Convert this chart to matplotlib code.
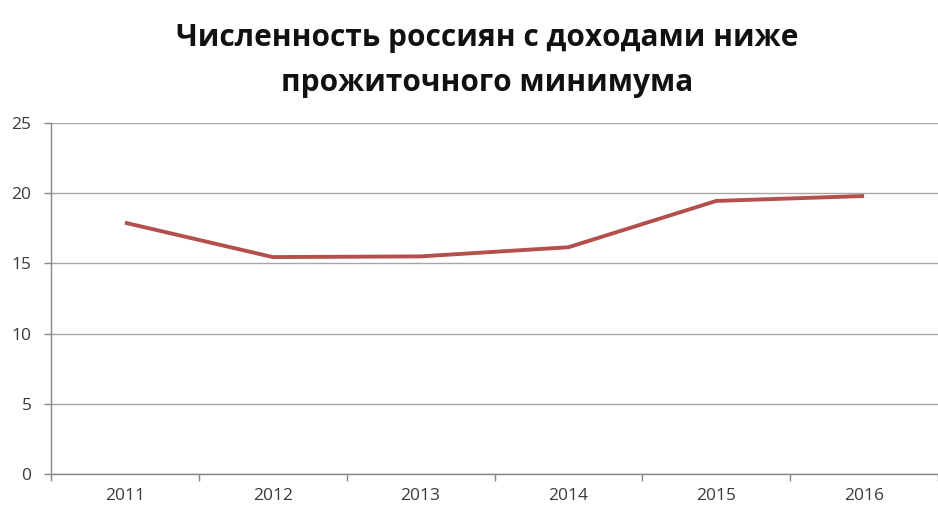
import matplotlib
matplotlib.use("Agg")
import matplotlib.pyplot as plt
import numpy as np

years = ["2011", "2012", "2013", "2014", "2015", "2016"]
values = [17.9, 15.45, 15.5, 16.15, 19.45, 19.8]
yticks = [0, 5, 10, 15, 20, 25]
title_lines = ["Численность россиян с доходами ниже", "прожиточного минимума"]

plt.rcParams["font.family"] = ["Open Sans", "DejaVu Sans"]

fig = plt.figure(figsize=(9.38, 5.08), dpi=100)
ax = fig.add_axes([51 / 938, 34 / 508, 1 - 51 / 938, (474 - 123) / 508])

x = np.arange(len(years))
ax.plot(x, values, color="#b3504d", lw=2.8, solid_capstyle="butt", zorder=3)

ax.set_xlim(-0.5, len(years) - 0.5)
ax.set_ylim(0, 25)
ax.set_yticks(yticks)
ax.yaxis.grid(True, color="#a6a6a6", lw=1.0)
ax.set_axisbelow(True)

ax.set_xticks(x)
ax.set_xticklabels(years)
ax.set_xticks(np.arange(-0.5, len(years)), minor=True)
ax.tick_params(axis="x", which="major", length=0, pad=10, labelsize=12.5, labelcolor="#3a3a3a")
ax.tick_params(axis="x", which="minor", length=5, color="#868686", width=1)
ax.tick_params(axis="y", length=5, color="#868686", width=1, pad=9, labelsize=12.5, labelcolor="#3a3a3a")

for s in ("top", "right"):
    ax.spines[s].set_visible(False)
for s in ("left", "bottom"):
    ax.spines[s].set_color("#868686")
    ax.spines[s].set_linewidth(1)

for line, yc in zip(title_lines, [38, 83]):
    fig.text(487 / 938, 1 - yc / 508, line, ha="center", va="center", fontsize=21.5,
             fontweight="bold", color="#111111")

fig.savefig("out.png", dpi=100)
